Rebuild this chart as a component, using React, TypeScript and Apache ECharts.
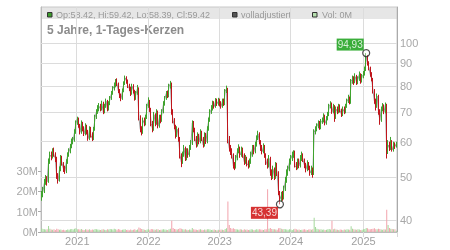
import React, { useEffect, useRef } from 'react';
import * as echarts from 'echarts';

const startDate = '2020-07-06';
const firstOpen = 45;

const closes = [
  45.5, 46.5, 48.5, 49.5, 48.8, 54, 56, 55.5, 57.5, 56,
  55, 50, 49, 52, 55, 53.5, 52, 51.5, 54, 56,
  57, 58.5, 60, 60.5, 63, 66, 67.5, 65, 63, 66,
  64, 62.5, 65, 63, 61, 64, 62, 61, 64, 68,
  70, 71, 72, 71, 73, 70, 72, 74, 71, 73,
  75, 77, 79, 80, 82, 81, 78, 76, 75, 78,
  81, 83.5, 82, 80, 79, 77, 80, 78, 75, 77,
  79, 68, 64, 63, 67, 66, 68, 72, 74, 71,
  66, 64, 69, 66, 70, 65, 68, 67, 70, 73,
  75, 77, 76, 80, 81, 70, 67, 65, 62, 64,
  61, 56, 54, 56, 58, 55, 57, 56, 58, 59.5,
  66, 64, 61, 59, 62, 60, 63, 61, 59, 62,
  60, 64, 67, 70, 71, 73, 72, 74, 73, 74,
  73, 72, 74, 73, 78, 79, 61, 58, 57, 56,
  53, 52.5, 55, 57, 58, 56, 57.5, 56, 54, 55,
  53.5, 53, 54, 56, 58, 57, 59, 61, 62.5, 60,
  58, 57, 58.5, 56, 54, 53, 55, 51, 50, 52,
  50, 53, 51, 46, 44.5, 45.5, 45, 47, 49, 51,
  52, 54, 55, 56, 57, 53, 52.5, 54, 53, 55,
  56, 54.5, 53, 52, 53.5, 52.5, 51, 52, 50.5, 63,
  64, 65, 66, 64.5, 66.5, 67, 68.5, 66, 67.5, 69,
  72, 73, 70, 72, 68, 71, 70, 72, 70.5, 69,
  71, 70, 72, 74, 75, 73.5, 82, 83, 82, 84,
  81.5, 83, 85, 82, 84, 85, 87, 93, 90, 88,
  85, 83, 78, 74, 72, 76, 70, 67, 71, 72,
  70, 72.5, 57, 59, 58, 60, 57.5, 59, 58.5, 59.42,
];

const highs = [
  46.5, 47.5, 49.5, 50.5, 50.2, 55, 57, 57, 58, 58.2,
  56.8, 55.5, 51, 52.8, 56, 55.8, 54, 53, 54.8, 56.8,
  58, 59.3, 61, 61.5, 64, 67, 68.3, 68, 65.8, 67,
  66.5, 65, 66, 65.5, 63.8, 65, 64.8, 63, 64.8, 69,
  71, 72.5, 73.3, 73, 74.2, 73.8, 73, 75, 74.5, 74,
  76, 78, 80, 81.5, 83, 83.3, 81.5, 78.8, 77, 79,
  82, 84.5, 84.2, 82.8, 81, 79.8, 81, 80.8, 78.5, 78,
  80.5, 79.5, 68.8, 65, 68, 68, 69, 73, 75.5, 74.5,
  71.5, 66.8, 70, 69.5, 71, 70.5, 69, 69, 71, 74,
  76, 78, 78.2, 81, 82.2, 81.5, 71, 67.8, 65.5, 65,
  64.5, 61.5, 56.5, 57, 59, 58.5, 58, 58, 59, 60.5,
  67, 66.8, 64.5, 61.8, 63, 62.5, 64, 63.5, 61.5, 63,
  62.8, 65, 68, 71, 72.5, 74.2, 74, 75.2, 75, 75.3,
  75, 74, 75, 75, 78.8, 80.2, 79.3, 61.8, 59, 58,
  56.5, 54, 56, 58, 59.2, 58.5, 58.5, 58.2, 56.5, 56,
  55.5, 54.5, 55, 57, 59, 59, 60, 62, 63.5, 63,
  60.5, 59, 59.5, 59, 56.5, 55, 56, 55.5, 52, 53,
  52.5, 54, 53.8, 51.5, 46.5, 46.3, 46.5, 47.8, 50, 52,
  53, 55, 56, 57, 57.4, 57.3, 54, 55, 55, 56,
  57, 56.5, 55, 53.8, 54.5, 54, 53, 53, 52.5, 64,
  65, 66, 67, 66.8, 67.5, 68, 69.5, 69, 68.5, 70,
  73, 74, 73.5, 73, 72.5, 72, 72, 73, 72.8, 71.2,
  72, 72, 73, 75, 76.5, 75.8, 83, 84.5, 84.2, 85.5,
  84.8, 84.2, 86.3, 85.5, 85.2, 86.5, 88.5, 94.93, 94, 91,
  88.5, 86, 83.5, 78.8, 75, 77, 76.5, 71, 72, 73.3,
  72.8, 73.5, 73, 60.5, 60, 61.5, 60.5, 60, 59.8, 60,
];

const lows = [
  44.2, 45, 46, 48, 47.8, 48.5, 53.5, 54.5, 55, 55.5,
  54, 49.5, 48.3, 48.8, 51.5, 53, 51.3, 50.8, 51, 53.5,
  55.5, 56.5, 58, 59.2, 60, 62.5, 65.5, 64.5, 62.3, 62.5,
  63.3, 61.8, 62, 62.3, 60.3, 60.5, 61.3, 60.2, 60.5, 63.5,
  67.5, 69.3, 70.2, 70.2, 70.5, 69.2, 69.5, 71.5, 70.2, 70.5,
  72.5, 74.5, 76.5, 78.2, 79.5, 80, 77.2, 75.2, 74, 74.5,
  77.5, 80.5, 81, 79.2, 78, 76, 76.5, 77, 74.2, 74.5,
  76.5, 67, 63, 62, 62.5, 65, 65.3, 67.5, 71.5, 70,
  65, 63, 63.5, 65, 65.5, 64.3, 64.5, 66, 66.5, 69.5,
  72.3, 74.5, 75.2, 75.5, 79, 69, 66, 64, 61, 61.5,
  60, 55, 52.6, 53.5, 55.5, 54.3, 54.5, 55.2, 55.5, 57.5,
  59, 63, 60.2, 58.2, 58.5, 59.2, 59.5, 60.2, 58.2, 58.5,
  59.3, 59.5, 63.5, 66.5, 69.3, 70.5, 71.2, 71.5, 72.2, 72.3,
  72, 71.2, 71.5, 72.2, 72.5, 77.2, 59.5, 57, 56, 55,
  52.2, 51.8, 52.2, 54.5, 56.5, 55.2, 55.5, 55.2, 53.2, 53.5,
  52.8, 52.2, 52.5, 53.5, 55.5, 56.2, 56.5, 58.5, 60.5, 59.2,
  57.2, 56.2, 56.5, 55.2, 53.2, 52.2, 52.5, 50.3, 49.2, 49.5,
  49.2, 49.5, 50.2, 45.5, 43.39, 44, 44.2, 44.5, 46.5, 48.5,
  50.3, 51.5, 53.3, 54.3, 55.2, 52.5, 51.8, 52, 52.3, 52.5,
  54.3, 54, 52.3, 51.2, 51.5, 51.8, 50.3, 50.5, 49.8, 50.5,
  62.3, 63.3, 64.3, 63.8, 64, 65.8, 66.3, 65.3, 65.5, 67,
  68.5, 71.3, 69.3, 69.5, 66.5, 67.5, 69.2, 69.5, 69.8, 68.2,
  68.5, 69.2, 69.5, 71.5, 73.3, 72.8, 73, 81, 80.5, 81.2,
  80.5, 80.8, 82.2, 81, 81.5, 83.3, 84.5, 86.5, 89, 86.8,
  84, 82, 77, 73, 70.5, 71.5, 69, 65.5, 66.5, 70.2,
  69.2, 69.5, 55, 56.3, 57.2, 57.5, 57, 57, 57.8, 58.2,
];

// volume in millions
const volumes = [
  1.8, 1.5, 1.3, 1.2, 1.4, 3.0, 1.6, 1.2, 1.1, 1.3, 1.0, 1.6, 1.4, 1.1, 1.2, 1.0, 1.1, 0.9, 1.0, 1.2,
  1.1, 1.3, 1.5, 1.2, 1.6, 1.8, 1.4, 1.3, 1.2, 1.5, 1.1, 1.0, 1.3, 1.2, 1.1, 1.4, 1.0, 1.2, 1.1, 1.5,
  1.3, 1.2, 1.1, 1.0, 1.2, 1.3, 1.1, 1.0, 1.4, 1.2, 1.5, 1.3, 1.2, 1.6, 1.4, 1.1, 1.5, 1.2, 1.0, 1.1,
  1.2, 1.3, 1.0, 1.1, 0.9, 1.2, 1.0, 1.1, 1.3, 1.0, 1.2, 2.2, 1.8, 1.5, 1.3, 1.1, 1.0, 1.2, 1.4, 1.1,
  1.5, 1.3, 1.2, 1.1, 1.3, 1.4, 1.0, 1.1, 1.2, 1.3, 1.2, 1.1, 1.0, 1.4, 1.6, 5.5, 2.0, 1.5, 1.4, 1.2,
  1.5, 1.8, 1.6, 1.3, 1.2, 1.4, 1.1, 1.0, 1.2, 1.1, 2.0, 1.3, 1.2, 1.1, 1.0, 1.2, 1.3, 1.1, 1.0, 1.2,
  1.1, 1.3, 1.4, 1.2, 1.0, 1.1, 1.2, 1.0, 0.9, 1.1, 1.0, 1.2, 1.1, 1.0, 1.5, 1.8, 15.0, 3.5, 2.0, 1.6,
  1.8, 1.5, 1.3, 1.2, 1.1, 1.4, 1.2, 1.0, 1.3, 1.1, 1.2, 1.0, 1.1, 1.3, 1.2, 1.0, 1.1, 1.4, 1.2, 1.3,
  1.2, 1.1, 1.0, 1.3, 1.4, 21.0, 1.6, 2.0, 1.5, 1.3, 1.4, 1.2, 1.1, 1.8, 2.0, 1.6, 1.4, 1.5, 1.3, 1.2,
  1.1, 1.3, 1.2, 1.0, 1.4, 1.6, 1.3, 1.1, 1.2, 1.0, 1.1, 1.2, 1.3, 1.1, 1.0, 1.2, 1.4, 1.1, 1.3, 7.0,
  2.5, 1.6, 1.4, 1.2, 1.3, 1.1, 1.2, 1.0, 1.1, 1.3, 1.5, 1.2, 5.5, 1.4, 1.6, 1.2, 1.1, 1.0, 1.2, 1.1,
  1.0, 1.2, 1.1, 1.3, 1.2, 1.1, 2.8, 1.6, 1.3, 1.2, 1.1, 1.4, 1.2, 1.0, 1.1, 1.3, 1.5, 2.0, 1.8, 1.4,
  1.3, 1.5, 1.6, 1.8, 1.4, 1.3, 1.6, 1.5, 1.2, 1.1, 1.3, 1.2, 11.0, 3.5, 2.0, 1.6, 1.5, 1.3, 1.4, 0.6,
];

const priceTicks = [40, 50, 60, 70, 80, 90, 100];
const volumeTicks = [0, 10, 20, 30];
const lastBar = [58.42, 59.42, 58.39, 59.42]; // Op, Hi, Lo, Cl
const titleText = '5 Jahre, 1-Tages-Kerzen';
const legendAdjusted = 'volladjustiert';
const legendVolume = 'Vol: 0M';

const FONT = '"Liberation Sans", Arial, Helvetica, sans-serif';

function buildDates(start: string, n: number): string[] {
  const out: string[] = [];
  const t0 = Date.parse(start + 'T00:00:00Z');
  for (let i = 0; i < n; i++) {
    const d = new Date(t0 + i * 7 * 86400000);
    out.push(d.toISOString().slice(0, 10));
  }
  return out;
}

export default function App() {
  const ref = useRef<HTMLDivElement>(null);

  useEffect(() => {
    if (!ref.current) return;
    const chart = echarts.init(ref.current, null, { renderer: 'svg' });

    const dates = buildDates(startDate, closes.length);
    const isYearStart = (i: number) =>
      i > 0 && dates[i].slice(0, 4) !== dates[i - 1].slice(0, 4);

    const opens = closes.map((c, i) => (i === 0 ? firstOpen : closes[i - 1]));
    const candleData = closes.map((c, i) => [opens[i], c, lows[i], highs[i]]);
    const volumeData = volumes.map((v, i) => ({
      value: v,
      itemStyle: { color: closes[i] >= opens[i] ? '#a4d89c' : '#f2a3ac' },
    }));

    const hiVal = Math.max(...highs);
    const hiIdx = highs.indexOf(hiVal);
    const loVal = Math.min(...lows);
    const loIdx = lows.indexOf(loVal);
    const fmt = (v: number) => v.toFixed(2).replace('.', ',');

    const option: any = {
      animation: false,
      textStyle: { fontFamily: FONT },
      grid: {
        left: 41, right: 53, top: 7, bottom: 18,
        show: true, borderColor: '#c8c8c8', borderWidth: 1,
      },
      xAxis: {
        type: 'category',
        data: dates,
        boundaryGap: true,
        axisLine: { lineStyle: { color: '#bbbbbb' } },
        axisTick: {
          show: true, length: 5,
          interval: (i: number) => isYearStart(i),
          lineStyle: { color: '#d8d8d8' },
        },
        axisLabel: {
          interval: (i: number) => isYearStart(i),
          formatter: (v: string) => v.slice(0, 4),
          color: '#a0a0a0', fontSize: 11, margin: 3, fontFamily: FONT,
        },
        splitLine: {
          show: true,
          interval: (i: number) => isYearStart(i),
          lineStyle: { color: '#dcdcdc', width: 1 },
        },
      },
      yAxis: [
        {
          type: 'log', logBase: 10, position: 'right', min: 37.6, max: 120.5,
          axisLine: { show: true, lineStyle: { color: '#aaaaaa' } },
          axisTick: {
            show: true, inside: true, length: 4, customValues: priceTicks,
            lineStyle: { color: '#999999' },
          },
          axisLabel: {
            customValues: priceTicks, color: '#a8a8a8', fontSize: 11, margin: 3,
            formatter: (v: number) => String(Math.round(v)), fontFamily: FONT,
          },
          splitLine: { show: false },
        },
        {
          type: 'value', position: 'left', min: 0, max: 110.8,
          axisLine: { show: true, lineStyle: { color: '#bbbbbb' } },
          axisTick: {
            show: true, length: 3, customValues: volumeTicks,
            lineStyle: { color: '#aaaaaa' },
          },
          axisLabel: {
            customValues: volumeTicks, color: '#a8a8a8', fontSize: 11, margin: 3,
            formatter: (v: number) => Math.round(v) + 'M', fontFamily: FONT,
          },
          splitLine: { show: false },
        },
      ],
      graphic: [
        { type: 'rect', z: -1, shape: { x: 41, y: 7, width: 356, height: 12 }, style: { fill: '#e6e6e6' } },
        { type: 'rect', shape: { x: 47.5, y: 12.5, width: 4.5, height: 4.5 }, style: { fill: '#3d9d2c', stroke: '#333', lineWidth: 1 } },
        {
          type: 'text', x: 56, y: 14.5,
          style: {
            text: `Op:${lastBar[0]}, Hi:${lastBar[1]}, Lo:${lastBar[2]}, Cl:${lastBar[3]}`,
            fontSize: 9, fontFamily: FONT, fill: '#999', verticalAlign: 'middle',
          },
        },
        { type: 'rect', shape: { x: 232.5, y: 12.5, width: 4.5, height: 4.5 }, style: { fill: '#555', stroke: '#333', lineWidth: 1 } },
        {
          type: 'text', x: 241, y: 14.5,
          style: { text: legendAdjusted, fontSize: 9, fontFamily: FONT, fill: '#999', verticalAlign: 'middle' },
        },
        { type: 'rect', shape: { x: 312.5, y: 12.5, width: 4.5, height: 4.5 }, style: { fill: '#b6e0ae', stroke: '#333', lineWidth: 1 } },
        {
          type: 'text', x: 322, y: 14.5,
          style: { text: legendVolume, fontSize: 9, fontFamily: FONT, fill: '#999', verticalAlign: 'middle' },
        },
        {
          type: 'text', x: 47, y: 30,
          style: {
            text: titleText, fontSize: 12, fontWeight: 'bold', fontFamily: FONT,
            fill: '#8c8c8c', verticalAlign: 'middle',
          },
        },
      ],
      series: [
        {
          name: 'volume', type: 'bar', xAxisIndex: 0, yAxisIndex: 1,
          data: volumeData, barWidth: 1, z: 1, silent: true,
        },
        {
          name: 'volladjustiert', type: 'line', xAxisIndex: 0, yAxisIndex: 0,
          data: closes, symbol: 'none', z: 2, silent: true,
          lineStyle: { color: '#9a9a9a', width: 1 },
          markLine: {
            silent: true, z: 1, symbol: ['none', 'none'], label: { show: false },
            lineStyle: { color: '#dcdcdc', type: 'solid', width: 1 },
            emphasis: { disabled: true },
            data: priceTicks.map((v) => ({ yAxis: v })),
          },
        },
        {
          name: 'kerzen', type: 'candlestick', xAxisIndex: 0, yAxisIndex: 0,
          data: candleData, barWidth: 1.2, z: 3, silent: true,
          itemStyle: {
            color: '#3fa32e', color0: '#c0151c',
            borderColor: '#3fa32e', borderColor0: '#c0151c', borderWidth: 1,
          },
        },
        {
          name: 'extrema', type: 'scatter', xAxisIndex: 0, yAxisIndex: 0, z: 5,
          symbol: 'circle', symbolSize: 7, silent: true,
          itemStyle: { color: 'rgba(255,255,255,0.5)', borderColor: '#222', borderWidth: 1.2 },
          data: [
            {
              value: [hiIdx, hiVal],
              label: {
                show: true, position: 'inside', offset: [-16, -8.5],
                formatter: fmt(hiVal), color: '#fff', backgroundColor: '#0a9a0a',
                fontSize: 10, lineHeight: 11, padding: [1, 1, 0, 1], fontFamily: FONT,
              },
            },
            {
              value: [loIdx, loVal],
              label: {
                show: true, position: 'inside', offset: [-15.5, 8.5],
                formatter: fmt(loVal), color: '#fff', backgroundColor: '#cc0000',
                fontSize: 10, lineHeight: 11, padding: [1, 1, 0, 1], fontFamily: FONT,
              },
            },
          ],
        },
      ],
    };

    chart.setOption(option);
    return () => chart.dispose();
  }, []);

  return (
    <div
      ref={ref}
      style={{ position: 'fixed', left: 0, top: 0, width: 450, height: 250 }}
    />
  );
}
